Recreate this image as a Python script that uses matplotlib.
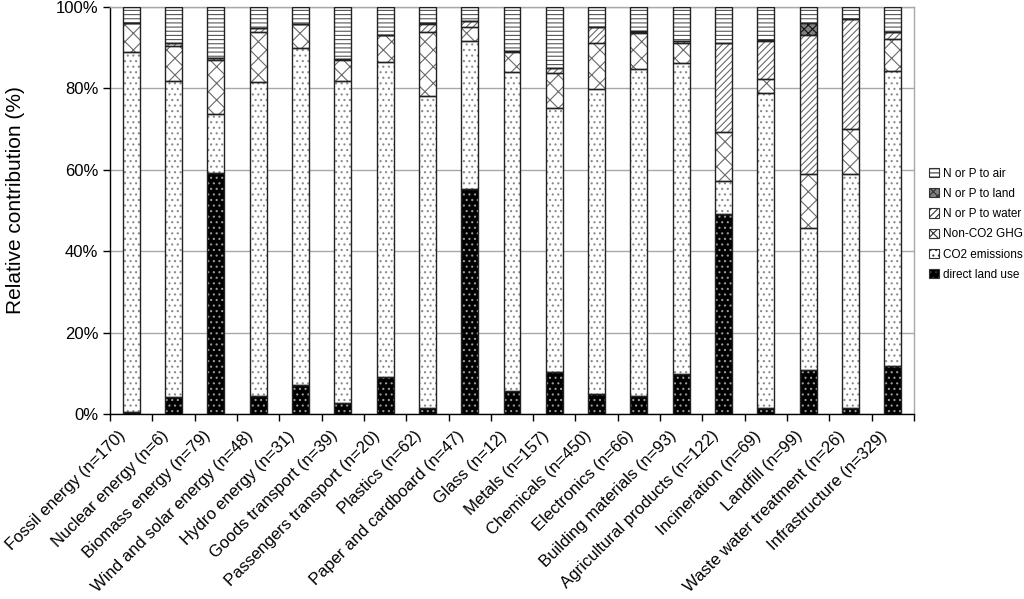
import matplotlib
matplotlib.use("Agg")
import matplotlib.pyplot as plt
import matplotlib.transforms as mtransforms
from matplotlib.patches import Patch
import numpy as np

categories = ["Fossil energy (n=170)", "Nuclear energy (n=6)", "Biomass energy (n=79)",
              "Wind and solar energy (n=48)", "Hydro energy (n=31)", "Goods transport (n=39)",
              "Passengers transport (n=20)", "Plastics (n=62)", "Paper and cardboard (n=47)",
              "Glass (n=12)", "Metals (n=157)", "Chemicals (n=450)", "Electronics (n=66)",
              "Building materials (n=93)", "Agricultural products (n=122)", "Incineration (n=69)",
              "Landfill (n=99)", "Waste water treatment (n=26)", "Infrastructure (n=329)"]

direct_land_use = [0.6, 4.3, 59.1, 4.5, 7.1, 2.8, 9.0, 1.6, 55.3, 5.6, 10.4, 4.9, 4.4, 9.8, 49.1, 1.4, 10.8, 1.4, 11.8]
co2_emissions   = [88.3, 77.5, 14.5, 77.1, 82.9, 79.0, 77.4, 76.6, 36.4, 78.4, 64.7, 74.9, 80.3, 76.5, 8.2, 77.4, 35.0, 57.6, 72.5]
non_co2_ghg     = [7.2, 8.7, 13.5, 12.2, 5.8, 5.2, 6.6, 15.6, 3.3, 5.0, 8.6, 11.3, 8.8, 4.9, 12.1, 3.5, 13.2, 11.0, 7.8]
np_to_water     = [0.0, 0.7, 0.4, 1.1, 0.0, 0.3, 0.2, 2.0, 1.6, 0.3, 1.2, 3.9, 0.3, 0.5, 21.8, 9.4, 34.1, 27.1, 1.7]
np_to_land      = [0.0, 0.0, 0.0, 0.0, 0.0, 0.0, 0.0, 0.2, 0.0, 0.0, 0.0, 0.0, 0.2, 0.0, 0.0, 0.2, 3.0, 0.0, 0.0]
np_to_air       = [3.9, 8.8, 12.5, 5.1, 4.2, 12.7, 6.8, 4.0, 3.4, 10.7, 15.1, 5.0, 6.0, 8.3, 8.8, 8.1, 3.9, 2.9, 6.2]

series = [
    ("direct land use", direct_land_use, "black", "#9a9a9a", "..."),
    ("CO2 emissions", co2_emissions, "white", "#8a8a8a", "..."),
    ("Non-CO2 GHG", non_co2_ghg, "white", "#6a6a6a", "xx"),
    ("N or P to water", np_to_water, "white", "#6a6a6a", "/////"),
    ("N or P to land", np_to_land, "#808080", "#111111", "xxxx"),
    ("N or P to air", np_to_air, "white", "#555555", "----"),
]

plt.rcParams['font.family'] = ['Liberation Sans', 'DejaVu Sans']
plt.rcParams['hatch.linewidth'] = 0.8

fig = plt.figure(figsize=(10.24, 5.99), dpi=100)
ax = fig.add_axes([0.1074, 0.3088, 0.7852, 0.6795])

x = np.arange(len(categories))
width = 0.4
bottom = np.zeros(len(categories))
for name, vals, fc, hc, hatch in series:
    vals = np.array(vals)
    ax.bar(x, vals, width, bottom=bottom, facecolor=fc, edgecolor=hc, hatch=hatch, linewidth=0, zorder=2)
    ax.bar(x, vals, width, bottom=bottom, fill=False, edgecolor="#222222", linewidth=1.0, zorder=3)
    bottom += vals

ax.set_xlim(-0.5, len(categories) - 0.5)
ax.set_ylim(0, 100)
ax.set_yticks([0, 20, 40, 60, 80, 100])
ax.set_yticklabels(["0%", "20%", "40%", "60%", "80%", "100%"], fontsize=12)
ax.yaxis.grid(True, color="#a8a8a8", linewidth=1.0, zorder=0)
ax.set_axisbelow(True)

ax.set_xticks(x)
ax.set_xticklabels(categories, rotation=45, ha="right", rotation_mode="anchor", fontsize=12)
ax.tick_params(axis="x", which="major", length=0, pad=8)
offset = mtransforms.ScaledTranslation(-0.13, -0.03, fig.dpi_scale_trans)
for lab in ax.get_xticklabels():
    lab.set_transform(lab.get_transform() + offset)
ax.set_xticks(np.arange(len(categories) + 1) - 0.5, minor=True)
ax.tick_params(axis="x", which="minor", length=5, direction="out", color="black", width=1)
ax.tick_params(axis="y", length=5, direction="out", color="black", width=1)

for s in ["left", "bottom"]:
    ax.spines[s].set_color("black")
    ax.spines[s].set_linewidth(1.0)
for s in ["right", "top"]:
    ax.spines[s].set_color("#a8a8a8")
    ax.spines[s].set_linewidth(1.0)

ax.set_ylabel("Relative contribution (%)", fontsize=15, va="center")
ax.yaxis.set_label_coords(-0.118, 0.526)

handles = [Patch(facecolor=fc, edgecolor="#333333", hatch=h, linewidth=0.8, label=n)
           for n, v, fc, hc, h in series][::-1]
fig.legend(handles=handles, loc="upper left", bbox_to_anchor=(0.897, 0.738), frameon=False,
           fontsize=8.5, handlelength=0.8, handleheight=0.8, handletextpad=0.4, labelspacing=0.7)

fig.savefig("out.png", dpi=100)
